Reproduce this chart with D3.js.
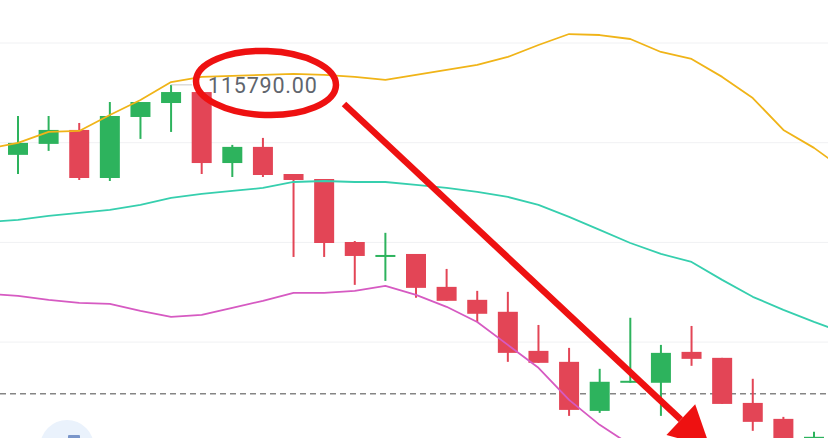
<!DOCTYPE html>
<html>
<head>
<meta charset="utf-8">
<script src="https://cdn.jsdelivr.net/npm/d3@7/dist/d3.min.js"></script>
<style>
  html, body { margin: 0; padding: 0; background: #ffffff; overflow: hidden; }
  svg { display: block; }
</style>
</head>
<body>
<svg id="chart" width="828" height="438"></svg>
<script>
// ---- data (prices) ----
const opens  = [115439,115494,115564,115323,115629,115699,115754,115398,115479,115343,115318,115002,114932,114942,114777,114712,114652,114456,114401,114155,114296,114296,114451,114421,114195,114115,113860];
const highs  = [115634,115634,115599,115704,115704,115790,115754,115489,115524,115343,115318,115007,115048,114942,114867,114757,114752,114586,114471,114366,114622,114486,114581,114421,114316,114125,114050];
const lows   = [115343,115459,115313,115308,115519,115554,115343,115328,115328,114927,114927,114787,114807,114722,114707,114601,114401,114396,114130,114145,114296,114130,114381,114190,114055,113935,113800];
const closes = [115499,115564,115323,115634,115704,115754,115398,115479,115338,115313,114997,114932,114937,114772,114707,114642,114446,114396,114160,114301,114306,114446,114416,114190,114100,113985,114025];

// Bollinger bands, first value belongs to the candle just left of the view (index -1)
const upperBand  = [115469,115499,115554,115559,115639,115714,115804,115830,115835,115840,115845,115840,115830,115815,115840,115865,115890,115930,115990,116045,116040,116020,115955,115920,115830,115724,115564,115474,115363];
const middleBand = [115103,115113,115133,115148,115163,115188,115223,115243,115258,115273,115303,115308,115303,115303,115288,115273,115253,115228,115188,115128,115063,114997,114942,114902,114812,114727,114662,114601,114546];
const lowerBand  = [114742,114732,114712,114697,114692,114657,114627,114637,114672,114707,114747,114747,114757,114782,114737,114677,114601,114486,114371,114210,114085,113985,113870];

const gridTicks = [116000, 115500, 115000, 114500];
const currentPrice = 114241;
const highLabel = "115790.00";
const highValue = 115790;
const highIndex = 5;

// ---- layout ----
const W = 828, H = 438;
const svg = d3.select("#chart");

const x = d3.scaleLinear().domain([0, 26]).range([18, 814]);
const y = d3.scaleLinear().domain([114000, 116000]).range([441.8, 43]);
const bodyW = 20;

const colUp = "#2db35d", colDown = "#e34556";

// gridlines
svg.append("g").selectAll("line").data(gridTicks).join("line")
  .attr("x1", 0).attr("x2", W)
  .attr("y1", d => y(d)).attr("y2", d => y(d))
  .attr("stroke", "#f0f1f3").attr("stroke-width", 1);

// current price dashed line
svg.append("line")
  .attr("x1", 0).attr("x2", W)
  .attr("y1", y(currentPrice)).attr("y2", y(currentPrice))
  .attr("stroke", "#858585").attr("stroke-width", 1.3)
  .attr("stroke-dasharray", "6,4");

// avatar-like faint circle at bottom-left
svg.append("circle").attr("cx", 67).attr("cy", 447).attr("r", 27).attr("fill", "#eaf2fc");
svg.append("rect").attr("x", 68).attr("y", 435).attr("width", 12).attr("height", 4).attr("rx", 1).attr("fill", "#4a6fb5").attr("opacity", 0.7);

// candles
const candles = opens.map((o, i) => ({ i, o, h: highs[i], l: lows[i], c: closes[i] }));
const g = svg.append("g");
g.selectAll("line.wick").data(candles).join("line")
  .attr("class", "wick")
  .attr("x1", d => x(d.i)).attr("x2", d => x(d.i))
  .attr("y1", d => y(d.h)).attr("y2", d => y(d.l))
  .attr("stroke", d => d.c >= d.o ? colUp : colDown).attr("stroke-width", 2);
g.selectAll("rect.body").data(candles).join("rect")
  .attr("class", "body")
  .attr("x", d => x(d.i) - bodyW / 2)
  .attr("width", bodyW)
  .attr("y", d => y(Math.max(d.o, d.c)))
  .attr("height", d => Math.max(2, Math.abs(y(d.o) - y(d.c))))
  .attr("fill", d => d.c >= d.o ? colUp : colDown);

// bands
function band(values, color) {
  const line = d3.line().x((d, k) => x(k - 1)).y(d => y(d));
  svg.append("path").attr("d", line(values))
    .attr("fill", "none").attr("stroke", color).attr("stroke-width", 1.8)
    .attr("stroke-linejoin", "round");
}
band(upperBand, "#f0b418");
band(middleBand, "#36cfae");
band(lowerBand, "#d65ac2");

// high marker and label
svg.append("line")
  .attr("x1", x(highIndex)).attr("x2", x(highIndex) + 21)
  .attr("y1", y(highValue)).attr("y2", y(highValue))
  .attr("stroke", "#c8c8c8").attr("stroke-width", 1);
svg.append("text")
  .attr("x", x(highIndex) + 37).attr("y", y(highValue) + 8.5)
  .attr("font-family", "Roboto, 'Noto Sans', sans-serif")
  .attr("font-size", 21.5)
  .attr("letter-spacing", 0.8)
  .attr("fill", "#60656d")
  .text(highLabel);

// red ellipse annotation
svg.append("ellipse")
  .attr("cx", 266).attr("cy", 83).attr("rx", 70).attr("ry", 32)
  .attr("fill", "none").attr("stroke", "#ee1111").attr("stroke-width", 6.5)
  .attr("transform", "rotate(2 266 83)");

// red arrow
const ax0 = 344, ay0 = 104, ax1 = 710, ay1 = 447;
const ang = Math.atan2(ay1 - ay0, ax1 - ax0);
const headLen = 40, headHalf = 21;
const bx = ax1 - headLen * Math.cos(ang), by = ay1 - headLen * Math.sin(ang);
svg.append("line")
  .attr("x1", ax0).attr("y1", ay0).attr("x2", bx).attr("y2", by)
  .attr("stroke", "#ee1111").attr("stroke-width", 6.5);
svg.append("path")
  .attr("d", `M${ax1},${ay1} L${bx - headHalf * Math.sin(ang)},${by + headHalf * Math.cos(ang)} L${bx + headHalf * Math.sin(ang)},${by - headHalf * Math.cos(ang)} Z`)
  .attr("fill", "#ee1111");
</script>
</body>
</html>
